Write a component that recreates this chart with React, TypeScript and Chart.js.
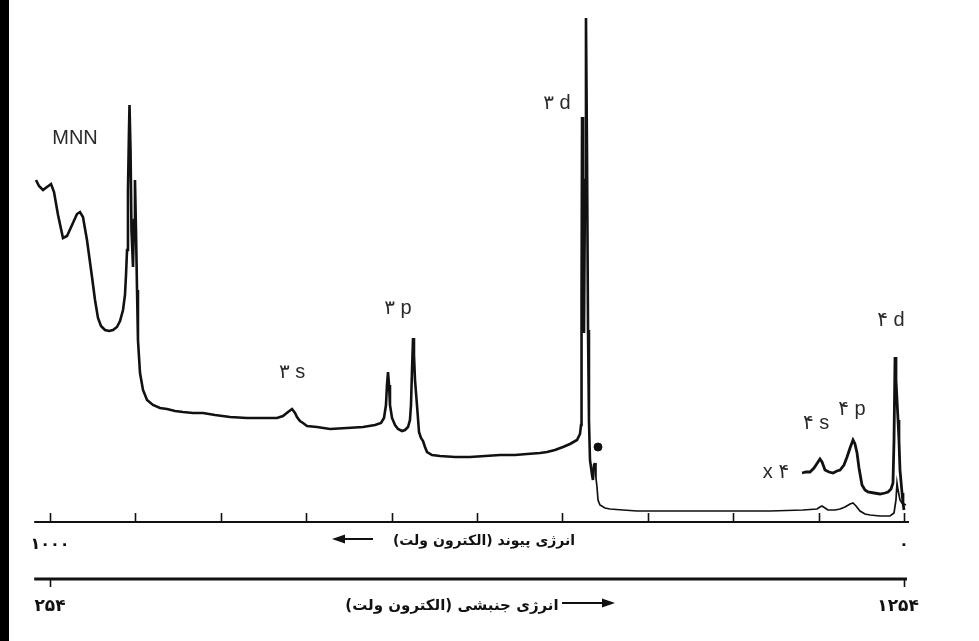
import React, { useEffect, useRef } from "react";
import { Chart, registerables } from "chart.js";

Chart.register(...registerables);

// Binding energy (eV) of each sample of the full-scale spectrum
const bindingEnergyMain = [
  1016.4, 1012.9, 1008.2, 1003.5, 998.8, 995.3, 990.6, 984.8, 980.1, 974.2,
  968.4, 964.9, 961.4, 956.7, 950.8, 947.3, 943.8, 940.3, 935.6, 930.9,
  926.2, 921.6, 918.0, 914.5, 912.2, 911.0, 909.8, 908.7, 907.5, 906.9,
  905.7, 904.6, 902.8, 901.6, 900.5, 899.3, 898.1, 897.0, 894.6, 891.1,
  886.4, 879.4, 871.2, 863.0, 853.6, 844.3, 832.6, 820.8, 806.8, 789.2,
  769.3, 751.8, 734.2, 727.2, 721.3, 716.6, 713.1, 710.8, 707.3, 703.7,
  699.1, 687.4, 672.1, 652.2, 633.5, 619.4, 612.4, 608.9, 606.6, 605.4,
  604.2, 603.0, 601.9, 599.5, 596.0, 592.5, 587.8, 584.3, 580.8, 578.5,
  577.3, 576.1, 574.9, 573.8, 572.6, 570.3, 567.9, 565.6, 563.2, 560.9,
  558.5, 552.7, 543.3, 525.8, 508.2, 490.6, 473.1, 455.5, 441.5, 426.2,
  418.0, 408.7, 399.3, 391.1, 382.9, 379.4, 378.2, 377.6, 377.0, 375.9,
  374.7, 373.5, 372.4, 371.2, 370.0, 368.9, 367.7, 365.3, 364.2, 363.0,
  361.8, 360.7, 359.5, 358.3, 356.0, 350.1, 344.3, 329.0, 312.6, 297.4,
  274.0, 238.9, 195.6, 156.9, 118.3, 101.9, 98.4, 96.0, 92.5, 89.0,
  80.8, 74.9, 69.1, 63.2, 59.7, 56.2, 51.5, 45.7, 39.8, 28.1,
  16.4, 11.7, 9.4, 8.2, 7.0, 4.7, 2.3, 0.0, -2.3,
];

// Intensity (arbitrary units) of the full-scale spectrum
const intensityMain = [
  342, 336, 332, 335, 338, 330, 307, 284, 286, 297,
  308, 310, 305, 282, 245, 222, 204, 196, 192, 191,
  192, 195, 201, 212, 227, 247, 272, 332, 392, 417,
  372, 292, 255, 302, 342, 292, 232, 182, 149, 132,
  122, 117, 114, 113, 111, 110, 109, 109, 107, 105,
  104, 104, 104, 106, 110, 113, 109, 105, 101, 99,
  96, 95, 93, 94, 95, 97, 99, 104, 117, 137,
  150, 137, 117, 104, 97, 93, 91, 92, 95, 102,
  117, 152, 184, 167, 142, 117, 90, 84, 81, 75,
  70, 67, 66, 65, 65, 66, 67, 67, 68, 69,
  70, 72, 75, 78, 82, 88, 97, 222, 405, 302,
  189, 342, 504, 372, 192, 102, 62, 47, 42, 57,
  59, 44, 35, 22, 17, 14, 13, 12, 11, 11,
  11, 11, 11, 11, 12, 13, 15, 16, 14, 12,
  12, 13, 15, 18, 19, 16, 11, 8, 7, 6,
  6, 9, 22, 39, 32, 22, 19, 18, 17,
];

// Valence region recorded at x4 magnification
const bindingEnergyX4 = [
  119.4, 114.8, 110.1, 105.4, 100.7, 98.4, 96.0, 92.5, 87.8, 83.1,
  78.5, 74.9, 70.3, 66.7, 63.2, 59.7, 57.4, 55.0, 52.7, 49.2,
  45.7, 42.2, 35.1, 28.1, 22.2, 18.7, 15.2, 12.9, 11.7, 10.5,
  9.4, 7.0, 5.9, 4.7, 2.3, 1.2, 0.0,
];
const intensityX4 = [
  49, 50, 50, 54, 60, 63, 60, 52, 50, 49,
  51, 52, 57, 65, 74, 82, 78, 69, 54, 37,
  32, 30, 29, 28, 29, 30, 33, 39, 82, 165,
  142, 102, 82, 52, 29, 19, 12,
];

// Satellite marker
const markerBindingEnergy = [358.3];
const markerIntensity = [75];

// Axes
const bindingTicks = [0, 100, 200, 300, 400, 500, 600, 700, 800, 900, 1000];
const bindingTickLabels = ["۱۰۰۰", "۰"];
const bindingTickLabelValues = [1000, 0];
const kineticTickLabels = ["۲۵۴", "۱۲۵۴"];
const kineticTickBinding = [1000, 0];
const bindingAxisTitle = "انرژی پیوند (الکترون ولت)";
const kineticAxisTitle = "انرژی جنبشی (الکترون ولت)";

// Peak annotations (text, binding energy, intensity)
const peakLabelTexts = ["MNN", "۳ d", "۳ p", "۳ s", "۴ d", "۴ p", "۴ s", "x ۴"];
const peakLabelEnergies = [970.7, 406.3, 592.5, 716.6, 15.2, 60.9, 103.0, 149.9];
const peakLabelIntensities = [384, 419, 214, 150, 202, 113, 99, 50];

const toPoints = (xs: number[], ys: number[]) => xs.map((x, i) => ({ x, y: ys[i] }));

const LABEL_FONT = '20px "Liberation Sans", "DejaVu Sans", sans-serif';

function drawArrow(ctx: CanvasRenderingContext2D, x1: number, x2: number, y: number) {
  const dir = x2 > x1 ? 1 : -1;
  const head = 13;
  ctx.beginPath();
  ctx.moveTo(x1, y);
  ctx.lineTo(x2 - dir * head, y);
  ctx.lineWidth = 2;
  ctx.stroke();
  ctx.beginPath();
  ctx.moveTo(x2, y);
  ctx.lineTo(x2 - dir * head, y - 4.5);
  ctx.lineTo(x2 - dir * head, y + 4.5);
  ctx.closePath();
  ctx.fill();
}

const axesPlugin = {
  id: "xpsAxes",
  afterDatasetsDraw(chart: any) {
    const ctx: CanvasRenderingContext2D = chart.ctx;
    const xs = chart.scales.x;
    const ys = chart.scales.y;
    const y0 = ys.getPixelForValue(0);
    ctx.save();
    ctx.strokeStyle = "#111";
    ctx.fillStyle = "#111";

    // binding energy axis
    const left = xs.getPixelForValue(1018.5);
    const right = xs.getPixelForValue(-5.8);
    ctx.lineWidth = 2.2;
    ctx.beginPath();
    ctx.moveTo(left, y0);
    ctx.lineTo(right, y0);
    ctx.stroke();
    ctx.lineWidth = 1.6;
    bindingTicks.forEach((t) => {
      const px = Math.round(xs.getPixelForValue(t)) + 0.5;
      ctx.beginPath();
      ctx.moveTo(px, y0);
      ctx.lineTo(px, y0 - 9);
      ctx.stroke();
    });
    ctx.font = 'bold 16px "DejaVu Sans", sans-serif';
    ctx.textAlign = "center";
    ctx.textBaseline = "middle";
    bindingTickLabels.forEach((lab, i) => {
      ctx.fillText(lab, xs.getPixelForValue(bindingTickLabelValues[i]), y0 + 23);
    });
    ctx.direction = "rtl";
    ctx.font = 'bold 14px "DejaVu Sans", sans-serif';
    ctx.fillText(bindingAxisTitle, 484, y0 + 19);
    ctx.direction = "ltr";
    drawArrow(ctx, 373, 332, y0 + 17);

    // kinetic energy axis
    const y2 = y0 + 57;
    ctx.lineWidth = 3;
    ctx.beginPath();
    ctx.moveTo(left, y2);
    ctx.lineTo(xs.getPixelForValue(-3.5), y2);
    ctx.stroke();
    ctx.lineWidth = 1.6;
    kineticTickBinding.forEach((t) => {
      const px = Math.round(xs.getPixelForValue(t)) + 0.5;
      ctx.beginPath();
      ctx.moveTo(px, y2);
      ctx.lineTo(px, y2 + 8);
      ctx.stroke();
    });
    ctx.font = 'bold 17px "DejaVu Sans", sans-serif';
    kineticTickLabels.forEach((lab, i) => {
      ctx.fillText(lab, xs.getPixelForValue(kineticTickBinding[i]) - (i === 1 ? 6 : 0), y2 + 28);
    });
    ctx.direction = "rtl";
    ctx.font = 'bold 15px "DejaVu Sans", sans-serif';
    ctx.fillText(kineticAxisTitle, 452, y2 + 27);
    ctx.direction = "ltr";
    drawArrow(ctx, 562, 615, y2 + 24);

    // peak labels
    ctx.font = LABEL_FONT;
    ctx.fillStyle = "#2a2a2a";
    peakLabelTexts.forEach((t, i) => {
      ctx.fillText(t, xs.getPixelForValue(peakLabelEnergies[i]), ys.getPixelForValue(peakLabelIntensities[i]));
    });
    ctx.restore();
  },
};

export default function App() {
  const canvasRef = useRef<HTMLCanvasElement | null>(null);

  useEffect(() => {
    if (!canvasRef.current) return;
    const chart = new Chart(canvasRef.current, {
      type: "scatter",
      data: {
        datasets: [
          {
            data: toPoints(bindingEnergyMain, intensityMain),
            showLine: true,
            borderColor: "#111",
            borderWidth: 2.6,
            pointRadius: 0,
            tension: 0,
            clip: false as any,
            segment: {
              borderWidth: (c: any) => (c.p0.parsed.x < 362 ? 1.7 : 2.6),
            },
          },
          {
            data: toPoints(bindingEnergyX4, intensityX4),
            showLine: true,
            borderColor: "#111",
            borderWidth: 2.8,
            pointRadius: 0,
            tension: 0,
            clip: false as any,
          },
          {
            data: toPoints(markerBindingEnergy, markerIntensity),
            showLine: false,
            pointRadius: 4,
            pointBackgroundColor: "#111",
            pointBorderColor: "#111",
            clip: false as any,
          },
        ],
      },
      options: {
        animation: false,
        responsive: false,
        layout: { padding: { left: 20, right: 49, top: 10, bottom: 119 } },
        scales: {
          x: { type: "linear", reverse: true, min: -30.44, max: 1035.13, display: false },
          y: { type: "linear", min: 0, max: 512, display: false },
        },
        plugins: { legend: { display: false }, tooltip: { enabled: false } },
      },
      plugins: [axesPlugin],
    });
    return () => chart.destroy();
  }, []);

  return (
    <div style={{ position: "fixed", left: 0, top: 0, width: 979, height: 641, background: "#fff" }}>
      <canvas ref={canvasRef} width={979} height={641} style={{ width: 979, height: 641, display: "block" }} />
      <div style={{ position: "absolute", left: 0, top: 0, width: 9, height: 641, background: "#000" }} />
    </div>
  );
}
